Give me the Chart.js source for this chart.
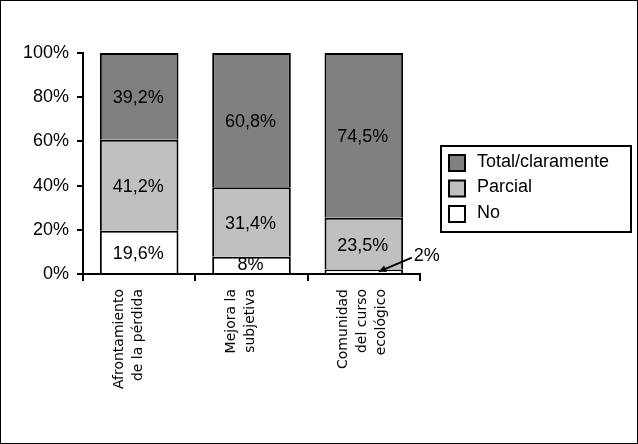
<!DOCTYPE html>
<html>
<head>
<meta charset="utf-8">
<script src="https://cdn.jsdelivr.net/npm/chart.js@4"></script>
<style>
  body { margin: 0; background: #fff; }
  #wrap { width: 638px; height: 444px; }
</style>
</head>
<body>
<div id="wrap"><canvas id="grafico" width="638" height="444"></canvas></div>
<script>
// datos
let categorias = [
    ['Afrontamiento', 'de la pérdida'],
    ['Mejora la', 'subjetiva'],
    ['Comunidad', 'del curso', 'ecológico']
]
let valoresNo = [19.6, 7.8, 2]
let valoresParcial = [41.2, 31.4, 23.5]
let valoresTotal = [39.2, 60.8, 74.5]
let etiquetasNo = ['19,6%', '8%', '']
let etiquetasParcial = ['41,2%', '31,4%', '23,5%']
let etiquetasTotal = ['39,2%', '60,8%', '74,5%']
let nombres = ['No', 'Parcial', 'Total/claramente']
let colores = ['#ffffff', '#c0c0c0', '#808080']
let ticksY = [0, 20, 40, 60, 80, 100]

const fuente = 'Arial, "Liberation Sans", sans-serif'

const pluginEtiquetas = {
    id: 'etiquetas',
    afterDatasetsDraw(chart) {
        const ctx = chart.ctx
        const listas = [etiquetasNo, etiquetasParcial, etiquetasTotal]
        ctx.save()
        ctx.font = '18px ' + fuente
        ctx.fillStyle = '#000'
        ctx.textAlign = 'center'
        ctx.textBaseline = 'middle'
        chart.data.datasets.forEach(function (ds, d) {
            let meta = chart.getDatasetMeta(d)
            meta.data.forEach(function (el, i) {
                let txt = listas[d][i]
                if (!txt) return
                let yy = (el.y + el.base) / 2 + 2
                if (d == 0 && i == 1) yy = el.y + 8
                ctx.fillText(txt, el.x - 1, yy)
            })
        })
        // etiqueta del 2% con flecha
        let el = chart.getDatasetMeta(0).data[2]
        let tx = el.x + 63
        let ty = el.y - 14
        ctx.fillText('2%', tx, ty)
        let x1 = tx - 15, y1 = ty + 2
        let x2 = el.x + 15, y2 = el.y + 2
        ctx.strokeStyle = '#000'
        ctx.lineWidth = 2
        ctx.beginPath()
        ctx.moveTo(x1, y1)
        ctx.lineTo(x2, y2)
        ctx.stroke()
        let ang = Math.atan2(y2 - y1, x2 - x1)
        ctx.beginPath()
        ctx.moveTo(x2, y2)
        ctx.lineTo(x2 - 8 * Math.cos(ang - 0.45), y2 - 8 * Math.sin(ang - 0.45))
        ctx.lineTo(x2 - 8 * Math.cos(ang + 0.45), y2 - 8 * Math.sin(ang + 0.45))
        ctx.closePath()
        ctx.fillStyle = '#000'
        ctx.fill()

        // categorias giradas, centradas bajo cada barra
        let escala = chart.scales.x
        ctx.font = '14px "DejaVu Sans", sans-serif'
        ctx.textAlign = 'right'
        ctx.textBaseline = 'middle'
        categorias.forEach(function (lineas, i) {
            let cx = escala.getPixelForValue(i)
            lineas.forEach(function (txt, j) {
                ctx.save()
                ctx.translate(cx - 20 + j * 19, escala.top + 15)
                ctx.rotate(-Math.PI / 2)
                ctx.fillText(txt, 0, 0)
                ctx.restore()
            })
        })
        ctx.restore()
    }
}

const pluginLeyenda = {
    id: 'leyenda',
    afterDraw(chart) {
        const ctx = chart.ctx
        ctx.save()
        // marco exterior
        ctx.strokeStyle = '#000'
        ctx.lineWidth = 1
        ctx.strokeRect(0.5, 0.5, chart.width - 1, chart.height - 1)
        // caja de leyenda
        let lx = 441, ly = 146, lw = 190, lh = 86
        ctx.lineWidth = 2
        ctx.strokeRect(lx, ly, lw, lh)
        ctx.font = '18px ' + fuente
        ctx.textBaseline = 'middle'
        ctx.textAlign = 'left'
        for (let k = 0; k < 3; k++) {
            let d = 2 - k
            let yy = ly + 16 + k * 25.5
            ctx.fillStyle = colores[d]
            ctx.fillRect(lx + 8, yy - 7, 16, 16)
            ctx.strokeRect(lx + 8, yy - 7, 16, 16)
            ctx.fillStyle = '#000'
            ctx.fillText(nombres[d], lx + 36, yy)
        }
        ctx.restore()
    }
}

const data = {
    labels: categorias,
    datasets: [valoresNo, valoresParcial, valoresTotal].map(function (v, d) {
        return {
            label: nombres[d],
            data: v,
            backgroundColor: colores[d],
            borderColor: '#000',
            borderWidth: 2,
            borderSkipped: 'start',
            barPercentage: 0.7,
            categoryPercentage: 1
        }
    })
}

const config = {
    type: 'bar',
    data: data,
    plugins: [pluginEtiquetas, pluginLeyenda],
    options: {
        responsive: false,
        animation: false,
        events: [],
        layout: { padding: { top: 53, right: 218, left: 1, bottom: 0 } },
        plugins: {
            legend: { display: false },
            title: { display: false },
            tooltip: { enabled: false }
        },
        scales: {
            x: {
                stacked: true,
                offset: true,
                grid: { display: true, offset: true, drawOnChartArea: false, drawTicks: true, tickLength: 7, color: '#000', lineWidth: 2 },
                border: { display: true, color: '#000', width: 2 },
                ticks: { display: false },
                afterFit: function (s) { s.height = 170 }
            },
            y: {
                stacked: true,
                min: 0,
                max: 100,
                afterBuildTicks: function (s) { s.ticks = ticksY.map(function (v) { return { value: v } }) },
                grid: { drawOnChartArea: false, drawTicks: true, tickLength: 6, color: '#000', lineWidth: 2 },
                border: { display: true, color: '#000', width: 2 },
                ticks: {
                    color: '#000',
                    font: { family: fuente, size: 18 },
                    padding: 8,
                    callback: function (v) { return v + '%' }
                },
                afterFit: function (s) { s.width = 82 }
            }
        }
    }
}

let myChart = new Chart(document.getElementById('grafico'), config)
</script>
</body>
</html>
